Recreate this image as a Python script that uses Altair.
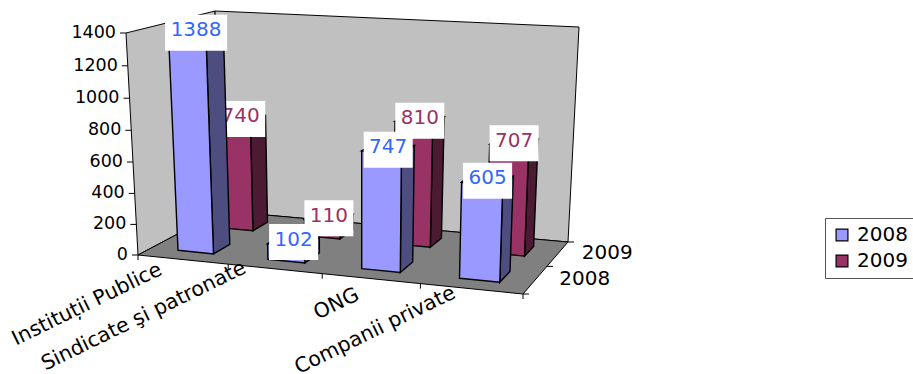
import altair as alt
import numpy as np

# Chart values
categories = ["Instituții Publice", "Sindicate şi patronate", "ONG", "Companii private"]
series_names = ["2008", "2009"]
values_2008 = [1388, 102, 747, 605]
values_2009 = [740, 110, 810, 707]
value_ticks = [0, 200, 400, 600, 800, 1000, 1200, 1400]

# Pixel corners of the floor of the 3D box (front-left, front-right, back-right, back-left)
FLOOR = [(138, 255), (523, 294), (568, 242), (221, 211)]
# How far each floor corner travels, in pixels, when rising to the full height of the box
RISE = [(-12, -222), (8, -232), (11, -215), (-6, -200)]
H_MAX = 1400
N_CAT = len(categories)

FONT = "DejaVu Sans"
FRONT = {"2008": "#9999FF", "2009": "#993366"}
SIDE = {"2008": "#4D4D80", "2009": "#4D1A33"}
TOP = {"2008": "#7A7ACC", "2009": "#7A2952"}
TEXT = {"2008": "#3366FF", "2009": "#993366"}


def homography(corners):
    src = [(0, 0), (1, 0), (1, 1), (0, 1)]
    a, b = [], []
    for (u, v), (x, y) in zip(src, corners):
        a.append([u, v, 1, 0, 0, 0, -u * x, -v * x])
        a.append([0, 0, 0, u, v, 1, -u * y, -v * y])
        b += [x, y]
    return np.append(np.linalg.solve(np.array(a, float), np.array(b, float)), 1).reshape(3, 3)


HF = homography(FLOOR)


def project(cat, depth, value):
    """Perspective position of a (category, depth, value) point, in pixels."""
    u, v = cat / N_CAT, depth / 2
    p = HF @ np.array([u, v, 1.0])
    lo = p[:2] / p[2]
    r = np.array(RISE, float)
    rise = (1 - v) * ((1 - u) * r[0] + u * r[1]) + v * (u * r[2] + (1 - u) * r[3])
    t = value / H_MAX
    # The camera looks slightly down, so equal value steps grow a little towards the top
    q = lo + rise * t * (0.96 + 0.04 * t)
    return [round(float(q[0]), 1), round(float(q[1]), 1)]


def polygon(points, **props):
    return {"type": "Feature", "properties": props,
            "geometry": {"type": "Polygon", "coordinates": [points + [points[0]]]}}


def segment(a, b):
    return {"type": "Feature", "properties": {},
            "geometry": {"type": "LineString", "coordinates": [a, b]}}


def shape(features, **kw):
    return alt.Chart(alt.Data(values=features)).mark_geoshape(**kw).project(
        type="identity", scale=1, translate=[0, 0])


def texts(rows, **kw):
    return alt.Chart(alt.Data(values=rows)).mark_text(font=FONT, **kw).encode(
        x=alt.X("x:Q", scale=None, axis=None),
        y=alt.Y("y:Q", scale=None, axis=None),
        text="t:N")


def bar_layers(name, row, values):
    d0, d1 = row + 0.3, row + 0.7
    fronts, others, boxes, labels = [], [], [], []
    for i, val in enumerate(values):
        c0, c1 = i + 0.3, i + 0.7
        fronts.append(polygon([project(c0, d0, 0), project(c1, d0, 0),
                               project(c1, d0, val), project(c0, d0, val)], series=name))
        others.append(polygon([project(c1, d0, 0), project(c1, d1, 0),
                               project(c1, d1, val), project(c1, d0, val)], fill=SIDE[name]))
        others.append(polygon([project(c0, d0, val), project(c1, d0, val),
                               project(c1, d1, val), project(c0, d1, val)], fill=TOP[name]))
        cx, cy = project(i + 0.5, row + 0.5, val)
        half = 5 + 6.5 * len(str(val))
        boxes.append({"x": cx - half, "x2": cx + half, "y": cy - 16.5, "y2": cy + 19.5})
        labels.append({"x": cx, "y": cy - 1, "t": str(val)})
    return [
        shape(others, stroke="black", strokeWidth=1.4).encode(
            fill=alt.Fill("properties.fill:N", scale=None)),
        shape(fronts, stroke="black", strokeWidth=1.4).encode(
            color=alt.Color("properties.series:N",
                            scale=alt.Scale(domain=series_names,
                                            range=[FRONT[s] for s in series_names]),
                            legend=alt.Legend(title=None, orient="none", legendX=825, legendY=218,
                                              symbolType="square", symbolSize=140,
                                              symbolStrokeColor="black", symbolStrokeWidth=1.2,
                                              labelFont=FONT, labelFontSize=20, labelColor="black",
                                              strokeColor="#555555", fillColor="white",
                                              padding=7, rowPadding=6, labelOffset=5,
                                              symbolOffset=0))),
        alt.Chart(alt.Data(values=boxes)).mark_rect(fill="white").encode(
            x=alt.X("x:Q", scale=None, axis=None), x2="x2:Q",
            y=alt.Y("y:Q", scale=None, axis=None), y2="y2:Q"),
        texts(labels, fontSize=20, color=TEXT[name], align="center", baseline="middle"),
    ]


# Walls and floor of the box
walls = [
    polygon([project(0, 0, 0), project(0, 2, 0), project(0, 2, H_MAX), project(0, 0, H_MAX)]),
    polygon([project(0, 2, 0), project(N_CAT, 2, 0), project(N_CAT, 2, H_MAX), project(0, 2, H_MAX)]),
]
floor = [polygon([project(0, 0, 0), project(N_CAT, 0, 0), project(N_CAT, 2, 0), project(0, 2, 0)])]

# Tick marks on the three axes
ticks = []
for v in value_ticks:
    p = project(0, 0, v)
    ticks.append(segment([p[0] - 6, p[1]], p))
for i in range(N_CAT + 1):
    p = project(i, 0, 0)
    ticks.append(segment(p, [p[0], p[1] + 5]))
for d in range(3):
    p = project(N_CAT, d, 0)
    ticks.append(segment(p, [p[0] + 6, p[1]]))

value_labels = [{"x": project(0, 0, v)[0] - 10, "y": project(0, 0, v)[1], "t": str(v)} for v in value_ticks]
depth_labels = [{"x": project(N_CAT, i + 0.5, 0)[0] + 24, "y": project(N_CAT, i + 0.5, 0)[1] - 1, "t": s}
                for i, s in enumerate(series_names)]

# Right end of each slanted category label, relative to the middle of its floor segment
label_shift = [(-22, 9), (-30, -2), (-13, 15), (-17, 3)]
category_labels = []
for i, name in enumerate(categories):
    p = project(i + 0.5, 0, 0)
    category_labels.append({"x": p[0] + label_shift[i][0], "y": p[1] + label_shift[i][1], "t": name})

layers = [
    shape(walls, fill="#C0C0C0", stroke="black", strokeWidth=1),
    shape(floor, fill="#808080", stroke="black", strokeWidth=1),
    shape(ticks, filled=False, stroke="black", strokeWidth=1),
    texts(value_labels, fontSize=17.5, align="right", baseline="middle", color="black"),
    texts(depth_labels, fontSize=20, align="left", baseline="middle", color="black"),
    texts(category_labels, fontSize=20.5, align="right", baseline="middle", color="black", angle=334),
]
layers += bar_layers("2009", 1, values_2009)
layers += bar_layers("2008", 0, values_2008)

chart = alt.layer(*layers).properties(
    width=913, height=374, padding=0, autosize=alt.AutoSizeParams(type="none"),
    background="white",
).configure_view(stroke=None)

chart.save("out.html", embed_options={"renderer": "svg", "actions": False})
